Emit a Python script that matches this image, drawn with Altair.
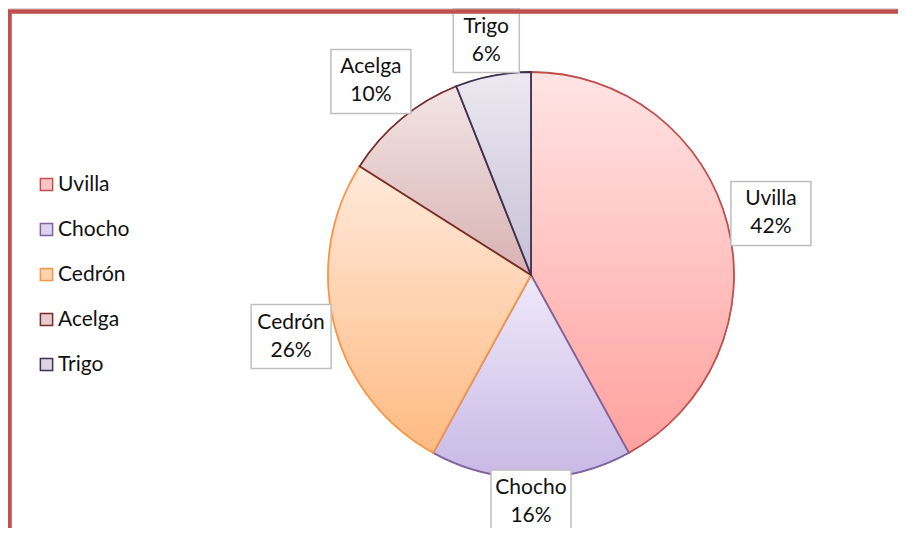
import math
import altair as alt
import pandas as pd

categories = ["Uvilla", "Chocho", "Cedrón", "Acelga", "Trigo"]
percents = [42, 16, 26, 10, 6]
strokes = ["#C0504D", "#8064A2", "#F79646", "#772C2A", "#3F3151"]
fills_mid = ["#FBC6C5", "#DDD2F0", "#FFD3B0", "#E6CCCC", "#DAD6E4"]
grad_top = ["#FFE4E4", "#EFE9FA", "#FFE9DA", "#F3E5E5", "#ECE9F2"]
grad_bot = ["#FFA19E", "#C9B8E5", "#FFBA82", "#D8B2B2", "#C6C0D5"]

df = pd.DataFrame({"cat": categories, "pct": percents, "idx": list(range(len(categories)))})

W, H = 890, 520
CX, CY = 523, 267  # pie centre within the view, pixels
R = 203
xs = alt.Scale(domain=[-CX, W - CX], nice=False, zero=False)
ys = alt.Scale(domain=[-(H - CY), CY], nice=False, zero=False)
ts = alt.Scale(domain=[0, 100], range=[0, 2 * math.pi])

base = alt.Chart(df).transform_window(
    cum="sum(pct)", sort=[alt.SortField("idx")], frame=[None, 0]
).transform_calculate(
    t0="datum.cum - datum.pct",
    t1="datum.cum",
    mid="(datum.cum - datum.pct/2) * 2 * PI / 100",
    cx="0",
    cy="0",
)

cen = dict(
    x=alt.X("cx:Q", scale=xs, axis=None),
    y=alt.Y("cy:Q", scale=ys, axis=None),
)

legend = alt.Legend(
    title=None, orient="none", legendX=28, legendY=166,
    symbolType="square", symbolSize=150, symbolStrokeWidth=1.5,
    labelFont="Lato", labelFontSize=21, labelColor="#111111",
    rowPadding=23, labelOffset=1,
)

pie_legend = base.mark_arc(radius=R).encode(
    theta=alt.Theta("t0:Q", scale=ts),
    theta2="t1:Q",
    fill=alt.Fill("cat:N", scale=alt.Scale(domain=categories, range=fills_mid), legend=legend, sort=categories),
    stroke=alt.Stroke("cat:N", scale=alt.Scale(domain=categories, range=strokes), legend=legend, sort=categories),
    **cen,
)

slices = []
for c, top, bot, st in zip(categories, grad_top, grad_bot, strokes):
    g = alt.LinearGradient(
        gradient="linear",
        stops=[alt.GradientStop(offset=0, color=top), alt.GradientStop(offset=1, color=bot)],
        x1=0, x2=0, y1=0, y2=1,
    )
    slices.append(
        base.transform_filter(alt.datum.cat == c).mark_arc(
            radius=R, fill=g, stroke=st, strokeWidth=1.8
        ).encode(theta=alt.Theta("t0:Q", scale=ts), theta2="t1:Q", **cen)
    )

lab = base.transform_calculate(
    hw="7 * length(datum.cat) - 2",
    hh="32",
).transform_calculate(
    rr=f"{R} - 2 + datum.hw * abs(sin(datum.mid)) + datum.hh * abs(cos(datum.mid))",
).transform_calculate(
    lx="datum.rr * sin(datum.mid)",
    ly=f"max(datum.rr * cos(datum.mid), {-(H - CY) + 26})",
).transform_calculate(
    bx0="datum.lx - datum.hw",
    bx1="datum.lx + datum.hw",
    by0="datum.ly - datum.hh",
    by1="datum.ly + datum.hh",
    txt="datum.cat + '\\n' + datum.pct + '%'",
)

boxes = lab.mark_rect(fill="white", stroke="#BFBFBF", strokeWidth=1.5).encode(
    x=alt.X("bx0:Q", scale=xs, axis=None),
    x2="bx1:Q",
    y=alt.Y("by0:Q", scale=ys, axis=None),
    y2="by1:Q",
)

texts = lab.mark_text(
    font="Lato", fontSize=21, color="#111111", lineBreak="\n",
    lineHeight=28, baseline="middle", align="center", dy=-14,
).encode(
    x=alt.X("lx:Q", scale=xs, axis=None),
    y=alt.Y("ly:Q", scale=ys, axis=None),
    text="txt:N",
)

border_top = alt.Chart(df).mark_rule(color="#C0504D", strokeWidth=3.5).encode(
    x=alt.value(0), x2=alt.value(W), y=alt.value(3.5)
)
border_left = alt.Chart(df).mark_rule(color="#C0504D", strokeWidth=3.5).encode(
    x=alt.value(1.5), y=alt.value(2), y2=alt.value(H)
)

chart = alt.layer(
    pie_legend, *slices, boxes, texts, border_top, border_left
).properties(
    width=W, height=H,
    autosize=alt.AutoSizeParams(type="none"),
    padding=0,
).configure_view(stroke=None).configure(background="white")

chart.save("out.html", embed_options={"renderer": "svg", "actions": False})
